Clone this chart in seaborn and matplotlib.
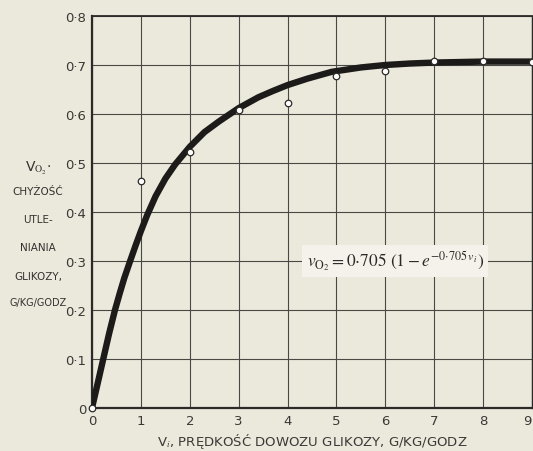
import numpy as np
import pandas as pd
import seaborn as sns
import matplotlib.pyplot as plt

# measured points (open circles)
pts_x = [0, 1, 2, 3, 4, 5, 6, 7, 8, 9]
pts_y = [0.0, 0.463, 0.522, 0.608, 0.622, 0.678, 0.688, 0.708, 0.708, 0.706]

# fitted curve
curve_x = [0, 0.12, 0.23, 0.35, 0.47, 0.57, 0.66, 0.78, 0.9, 1.0, 1.13, 1.3, 1.5, 1.7,
           2.0, 2.3, 2.6, 3.0, 3.4, 3.7, 4.0, 4.4, 4.9, 5.5, 6.0, 6.5, 7.0, 8.0, 9.0]
curve_y = [0.0, 0.052, 0.100, 0.152, 0.200, 0.235, 0.265, 0.300, 0.334, 0.361, 0.394, 0.432,
           0.468, 0.497, 0.533, 0.563, 0.585, 0.612, 0.634, 0.647, 0.659, 0.672, 0.686,
           0.695, 0.700, 0.703, 0.705, 0.707, 0.707]

x_ticks = [0, 1, 2, 3, 4, 5, 6, 7, 8, 9]
y_ticks = [0, 0.1, 0.2, 0.3, 0.4, 0.5, 0.6, 0.7, 0.8]
y_tick_labels = ["0", "0·1", "0·2", "0·3", "0·4", "0·5", "0·6", "0·7", "0·8"]

ylabel_lines = ["V$_{\\mathrm{O_2}}$·", "CHYŻOŚĆ", "UTLE-", "NIANIA", "GLIKOZY,", "G/KG/GODZ"]

bg = "#ebe8dc"
ink = "#2b2a28"

sns.set_style("whitegrid", {"axes.facecolor": bg, "figure.facecolor": bg,
                            "grid.color": "#4a4844", "axes.edgecolor": ink})
plt.rcParams["font.family"] = ["DejaVu Sans"]
plt.rcParams["mathtext.fontset"] = "stix"

W, H = 533, 452
fig = plt.figure(figsize=(W / 100, H / 100), dpi=100)
ax = fig.add_axes([92 / W, 1 - 409 / H, 440 / W, 392 / H])

curve = pd.DataFrame({"x": curve_x, "y": curve_y})
pts = pd.DataFrame({"x": pts_x, "y": pts_y})

sns.lineplot(data=curve, x="x", y="y", sort=False, color="#1c1b19", linewidth=4.6,
             ax=ax, zorder=3, solid_capstyle="round", solid_joinstyle="round")
sns.scatterplot(data=pts, x="x", y="y", ax=ax, s=22, facecolor="white",
                edgecolor="#2b2a28", linewidth=0.9, zorder=4, clip_on=False)

ax.set_xlim(0, 9)
ax.set_ylim(0, 0.8)
ax.set_xticks(x_ticks)
ax.set_yticks(y_ticks)
ax.set_yticklabels(y_tick_labels)
ax.tick_params(length=0, labelsize=9.5, colors="#3a3936", pad=4)
ax.get_xticklabels()[-1].set_horizontalalignment("right")
ax.grid(True, color="#4a4844", linewidth=0.8)
for side in ["left", "bottom", "top", "right"]:
    ax.spines[side].set_visible(True)
    ax.spines[side].set_color(ink)
ax.spines["left"].set_linewidth(1.6)
ax.spines["bottom"].set_linewidth(1.6)
ax.spines["top"].set_linewidth(1.3)
ax.spines["right"].set_linewidth(1.0)

ax.set_xlabel("V$_i$, PRĘDKOŚĆ DOWOZU GLIKOZY, G/KG/GODZ", fontsize=9.5,
              color="#3a3936", labelpad=3)
ax.set_ylabel("")

# equation with light box over the grid
ax.text(6.2, 0.3, r"$v_{\mathrm{O}_2} = 0{\cdot}705\ (1 - e^{-0{\cdot}705\, v_i})$",
        fontsize=12.5, ha="center", va="center", color="#2b2a28", zorder=5,
        bbox=dict(boxstyle="square,pad=0.25", facecolor="#f4f2ea", edgecolor="none"))

# stacked y label on the left
y_pos = [168, 192, 220, 248, 277, 303]
sizes = [10, 7.5, 7.5, 7.5, 7.5, 7]
for txt, yp, fs in zip(ylabel_lines, y_pos, sizes):
    fig.text(38 / W, 1 - yp / H, txt, ha="center", va="center", fontsize=fs,
             color="#33322f", fontweight="medium")

fig.savefig("out.png", dpi=100, facecolor=bg)
